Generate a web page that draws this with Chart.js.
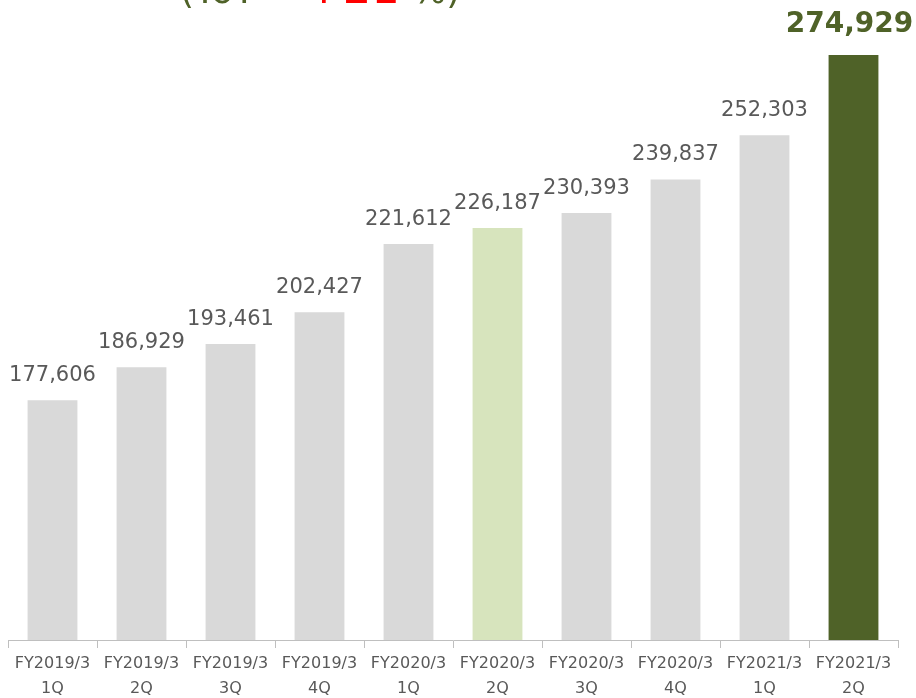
<!DOCTYPE html>
<html>
<head>
<meta charset="utf-8">
<script src="https://cdn.jsdelivr.net/npm/chart.js@4"></script>
<style>
  html, body { margin: 0; padding: 0; background: #ffffff; overflow: hidden; }
  canvas { display: block; }
</style>
</head>
<body>
<canvas id="salesChart" width="916" height="698"></canvas>
<script>
var periods = ["FY2019/3", "FY2019/3", "FY2019/3", "FY2019/3", "FY2020/3", "FY2020/3", "FY2020/3", "FY2020/3", "FY2021/3", "FY2021/3"];
var quarters = ["1Q", "2Q", "3Q", "4Q", "1Q", "2Q", "3Q", "4Q", "1Q", "2Q"];
var values = [177606, 186929, 193461, 202427, 221612, 226187, 230393, 239837, 252303, 274929];
var barColors = ['#d9d9d9', '#d9d9d9', '#d9d9d9', '#d9d9d9', '#d9d9d9', '#d7e4bd', '#d9d9d9', '#d9d9d9', '#d9d9d9', '#4f6228'];

var labels = periods.map(function(p, i) { return [p, quarters[i]]; });

// value labels above bars, last one bold and green
var valueLabels = {
    id: 'valueLabels',
    afterDatasetsDraw: function(chart) {
        var ctx = chart.ctx;
        var meta = chart.getDatasetMeta(0);
        ctx.save();
        ctx.textAlign = 'center';
        ctx.textBaseline = 'alphabetic';
        meta.data.forEach(function(bar, i) {
            var last = i === values.length - 1;
            ctx.font = last ? 'bold 28px "DejaVu Sans"' : '21px "DejaVu Sans"';
            ctx.fillStyle = last ? '#4f6228' : '#595959';
            ctx.fillText(values[i].toLocaleString('en-US'), bar.x - (last ? 4 : 0), bar.y - (last ? 23 : 19));
        });
        ctx.restore();
    }
};

// headline, cut off by the top edge
var headline = {
    id: 'headline',
    afterDraw: function(chart) {
        var ctx = chart.ctx;
        ctx.save();
        ctx.textBaseline = 'alphabetic';
        ctx.textAlign = 'left';
        ctx.font = '36px "DejaVu Sans"';
        ctx.fillStyle = '#4f6228';
        ctx.fillText('(YoY', 180, 3);
        ctx.font = '45px "DejaVu Sans"';
        ctx.fillStyle = '#ff0000';
        ctx.fillText('+21', 305, 3);
        ctx.font = '36px "DejaVu Sans"';
        ctx.fillStyle = '#4f6228';
        ctx.fillText('%)', 412, 3);
        ctx.restore();
    }
};

function buildChart() {
    var ctx = document.getElementById('salesChart').getContext('2d');
    var chart = new Chart(ctx, {
        type: 'bar',
        data: {
            labels: labels,
            datasets: [{
                data: values,
                backgroundColor: barColors,
                borderWidth: 0,
                barPercentage: 0.56,
                categoryPercentage: 1.0
            }]
        },
        options: {
            responsive: false,
            animation: false,
            devicePixelRatio: 1,
            layout: { padding: { left: 8, right: 18, top: 37, bottom: 0 } },
            plugins: {
                legend: { display: false },
                tooltip: { enabled: false }
            },
            scales: {
                x: {
                    afterFit: function(scale) { scale.height = 58; },
                    grid: {
                        offset: true,
                        drawOnChartArea: false,
                        drawTicks: true,
                        tickLength: 8,
                        color: '#bfbfbf'
                    },
                    border: { display: true, color: '#bfbfbf', width: 1 },
                    ticks: {
                        color: '#595959',
                        font: { family: 'DejaVu Sans', size: 16, lineHeight: 1.56 },
                        padding: 3,
                        maxRotation: 0,
                        autoSkip: false
                    }
                },
                y: {
                    display: false,
                    min: 110000,
                    max: 280000
                }
            }
        },
        plugins: [valueLabels, headline]
    });
}

buildChart();
</script>
</body>
</html>
